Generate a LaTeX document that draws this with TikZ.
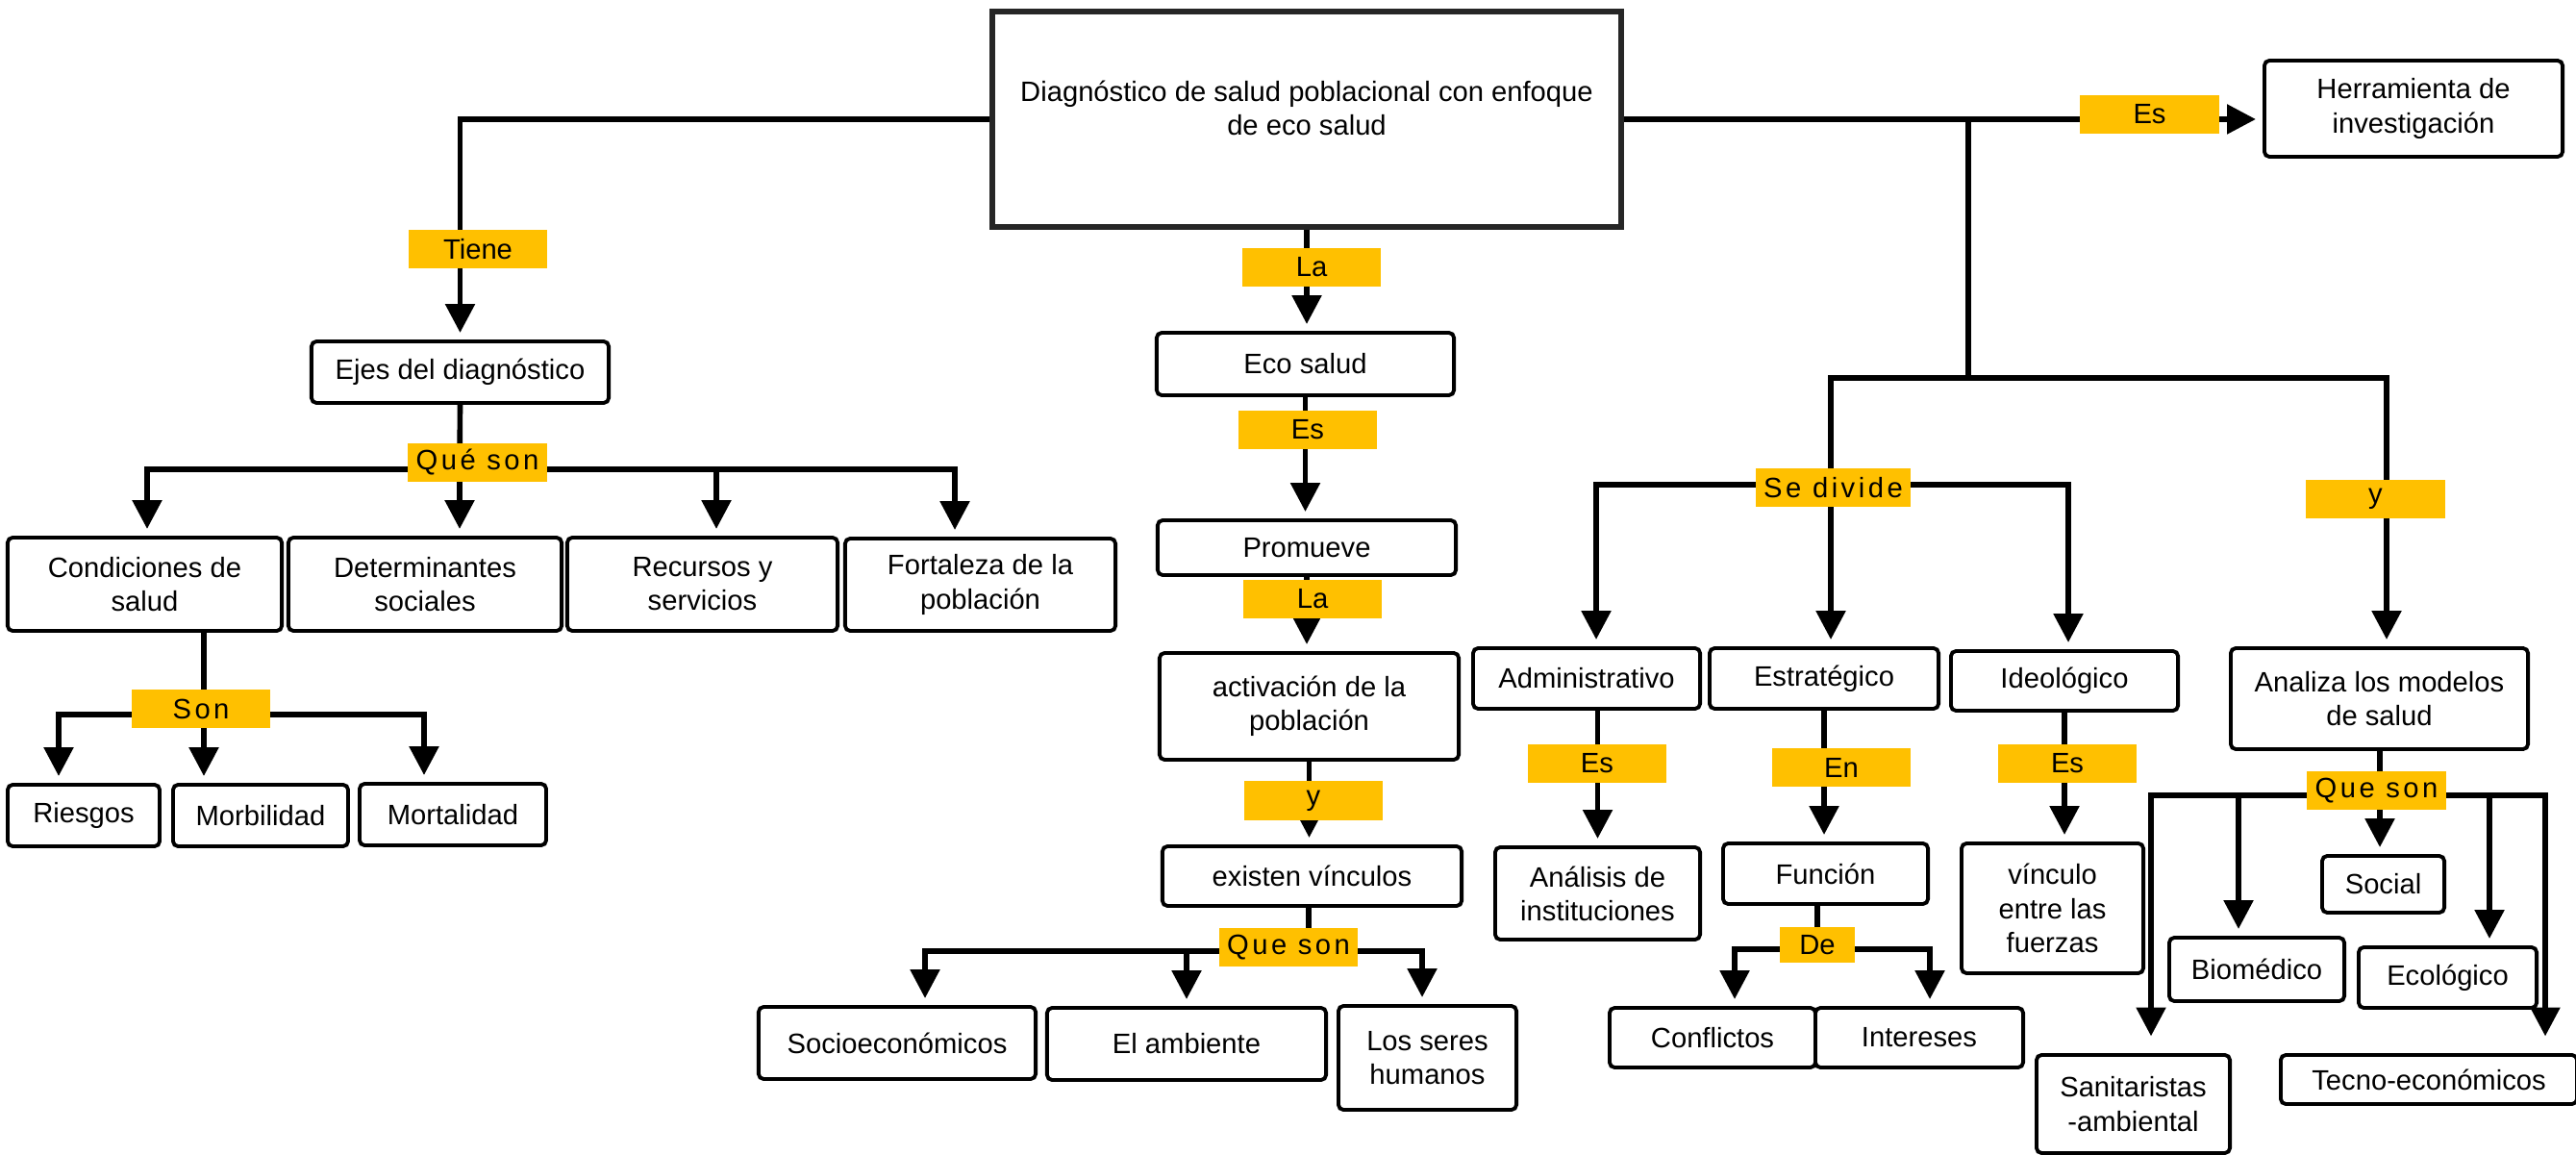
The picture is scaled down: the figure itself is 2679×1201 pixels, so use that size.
\documentclass[tikz,border=0pt]{standalone}
\usepackage{fontspec}
\setmainfont{Liberation Sans}
\newfontfamily\lblfont[LetterSpace=12]{Liberation Sans}
\usetikzlibrary{arrows.meta}
\definecolor{lblyellow}{HTML}{FFC000}

\begin{document}
\begin{tikzpicture}[x=0.01cm,y=-0.01cm,>={Triangle[length=8.5pt,width=8.5pt]},
    conn/.style={line width=1.6pt},
    arr/.style={conn,->,shorten >=2pt},
    txt/.style={align=center,font=\fontsize{8.3}{10}\selectfont},
    box/.style={txt,draw,line width=1.1pt,rounded corners=1.5pt,fill=white,inner sep=1pt},
    mainbox/.style={draw=black!85,line width=1.8pt,fill=white},
    lbl/.style={fill=lblyellow,minimum width=1.44cm,minimum height=0.4cm,inner sep=0pt,font=\fontsize{8.3}{10}\selectfont},
    widelbl/.style={lbl,font=\lblfont\fontsize{8.3}{10}\selectfont},
    boxsize/.style 2 args={minimum width=#1cm,minimum height=#2cm}]

    \useasboundingbox (0,0) rectangle (2679,1201);

    % main concept
    \node[mainbox,boxsize={6.54}{2.24}] (diag) at (1359,124) {};
    \node[txt] (diagtxt) at (1359,112) {Diagnóstico de salud poblacional con enfoque\\de eco salud};
    \node[box,boxsize={3.10}{1.00}] (herr) at (2510,113) {Herramienta de\\investigación};

    % left branch
    \node[box,boxsize={3.09}{0.64}] (ejes) at (478.5,387) {Ejes del diagnóstico};
    \node[box,boxsize={2.85}{0.97}] (cond) at (150.5,607.5) {Condiciones de\\salud};
    \node[box,boxsize={2.84}{0.97}] (deter) at (442,607.5) {Determinantes\\sociales};
    \node[box,boxsize={2.81}{0.97}] (recur) at (730.5,607.5) {Recursos y\\servicios};
    \node[box,boxsize={2.81}{0.96}] (forta) at (1019.5,608) {Fortaleza de la\\población};
    \node[box,boxsize={1.58}{0.64}] (ries) at (87,848) {Riesgos};
    \node[box,boxsize={1.82}{0.64}] (morb) at (271,848) {Morbilidad};
    \node[box,boxsize={1.94}{0.64}] (mort) at (471,847) {Mortalidad};

    % middle branch
    \node[box,boxsize={3.09}{0.65}] (eco) at (1357.5,378.5) {Eco salud};
    \node[box,boxsize={3.10}{0.57}] (prom) at (1359,569.5) {Promueve};
    \node[box,boxsize={3.11}{1.11}] (activ) at (1361.5,734.5) {activación de la\\población};
    \node[box,boxsize={3.11}{0.62}] (exist) at (1364.5,911) {existen vínculos};
    \node[box,boxsize={2.88}{0.75}] (socio) at (933,1084.5) {Socioeconómicos};
    \node[box,boxsize={2.90}{0.75}] (ambi) at (1234,1085.5) {El ambiente};
    \node[box,boxsize={1.85}{1.08}] (seres) at (1484.5,1100) {Los seres\\humanos};

    % right branch
    \node[box,boxsize={2.36}{0.63}] (admin) at (1650,705.5) {Administrativo};
    \node[box,boxsize={2.38}{0.63}] (estra) at (1897,705.5) {Estratégico};
    \node[box,boxsize={2.36}{0.62}] (ideo) at (2147,708) {Ideológico};
    \node[box,boxsize={3.09}{1.05}] (anali) at (2474.5,726.5) {Analiza los modelos\\de salud};
    \node[box,boxsize={2.13}{0.96}] (anal) at (1661.5,929) {Análisis de\\instituciones};
    \node[box,boxsize={2.13}{0.63}] (func) at (1898.5,908.5) {Función};
    \node[box,boxsize={1.89}{1.35}] (vinc) at (2134.5,944.5) {vínculo\\entre las\\fuerzas};
    \node[box,boxsize={2.14}{0.62}] (confl) at (1781,1079) {Conflictos};
    \node[box,boxsize={2.16}{0.62}] (inter) at (1996,1079) {Intereses};
    \node[box,boxsize={1.27}{0.59}] (social) at (2478.5,919.5) {Social};
    \node[box,boxsize={1.82}{0.66}] (biom) at (2347,1008) {Biomédico};
    \node[box,boxsize={1.85}{0.63}] (ecol) at (2545.5,1016.5) {Ecológico};
    \node[box,boxsize={2.01}{1.02}] (sanit) at (2218.5,1148) {Sanitaristas\\-ambiental};
    \node[box,boxsize={3.08}{0.51}] (tecno) at (2526,1122.5) {Tecno-económicos};

    % junctions
    \coordinate (qs) at (478,488);   \coordinate (qsL) at (153,488);
    \coordinate (qsC) at (745,488);  \coordinate (qsR) at (993,488);
    \coordinate (sn) at (212,743);   \coordinate (snL) at (61,743);
    \coordinate (snR) at (441,743);
    \coordinate (vq) at (1361,989);  \coordinate (vqL) at (962,989);
    \coordinate (vqC) at (1234,989); \coordinate (vqR) at (1479,989);
    \coordinate (hr) at (2047,124);  \coordinate (br) at (2047,393);
    \coordinate (brL) at (1904,393); \coordinate (brR) at (2482,393);
    \coordinate (sd) at (1904,504);  \coordinate (sdL) at (1660,504);
    \coordinate (sdR) at (2151,504);
    \coordinate (de) at (1890,987);  \coordinate (deL) at (1804,987);
    \coordinate (deR) at (2007,987);
    \coordinate (qm) at (2475,827);  \coordinate (qmL) at (2237,827);
    \coordinate (qmB) at (2328,827); \coordinate (qmE) at (2589,827);
    \coordinate (qmR) at (2647,827);

    % connectors
    \draw[arr] (diag.west) -| (ejes.north);
    \draw[conn] (ejes.south) -- (qs);
    \draw[arr] (qs) -| (qsL |- cond.north);
    \draw[arr] (qs) -- (qs |- deter.north);
    \draw[arr] (qsC) -- (qsC |- recur.north);
    \draw[arr] (qs) -| (qsR |- forta.north);
    \draw[conn] (cond.south -| sn) -- (sn);
    \draw[arr] (sn) -| (snL |- ries.north);
    \draw[arr] (sn) -- (sn |- morb.north);
    \draw[arr] (sn) -| (snR |- mort.north);

    \draw[arr] (diag.south) -- (diag.south |- eco.north);
    \draw[arr] (eco.south) -- (eco.south |- prom.north);
    \draw[arr] (prom.south) -- (prom.south |- activ.north);
    \draw[arr] (activ.south) -- (activ.south |- exist.north);
    \draw[conn] (exist.south -| vq) -- (vq);
    \draw[arr] (vq) -| (vqL |- socio.north);
    \draw[arr] (vqC) -- (vqC |- ambi.north);
    \draw[arr] (vq) -| (vqR |- seres.north);

    \draw[arr] (diag.east) -- (diag.east -| herr.west);
    \draw[conn] (hr) -- (br);
    \draw[arr] (br) -| (brL |- estra.north);
    \draw[arr] (br) -| (brR |- anali.north);
    \draw[arr] (sd) -| (sdL |- admin.north);
    \draw[arr] (sd) -| (sdR |- ideo.north);
    \draw[arr] (admin.south -| anal.north) -- (anal.north);
    \draw[arr] (estra.south) -- (estra.south |- func.north);
    \draw[arr] (ideo.south) -- (ideo.south |- vinc.north);
    \draw[conn] (func.south -| de) -- (de);
    \draw[arr] (de) -| (deL |- confl.north);
    \draw[arr] (de) -| (deR |- inter.north);
    \draw[conn] (anali.south -| qm) -- (qm);
    \draw[arr,shorten >=5pt] (qm) -| (qmL |- sanit.north);
    \draw[arr] (qmB) -- (qmB |- biom.north);
    \draw[arr] (qm) -- (qm |- social.north);
    \draw[arr] (qmE) -- (qmE |- ecol.north);
    \draw[arr,shorten >=5pt] (qm) -| (qmR |- tecno.north);

    % link words
    \node[lbl] (tiene) at (497,259) {Tiene};
    \node[widelbl] (queson) at (496.5,481) {Qué son};
    \node[widelbl] (son) at (209,737) {Son};
    \node[lbl] (es1) at (2235.5,119) {Es};
    \node[lbl] (la1) at (1364,278) {La};
    \node[lbl] (es2) at (1360,447) {Es};
    \node[lbl] (la2) at (1365,623) {La};
    \node[lbl] (y1) at (1366,832.5) {y};
    \node[widelbl] (queson1) at (1340,985) {Que son};
    \node[widelbl,minimum width=1.61cm] (sedivide) at (1906.5,507) {Se divide};
    \node[lbl] (y2) at (2470.5,519) {y};
    \node[lbl] (es3) at (1661,794) {Es};
    \node[lbl] (en) at (1915,798) {En};
    \node[lbl] (es4) at (2150,794) {Es};
    \node[lbl,minimum width=0.78cm,minimum height=0.37cm] (delbl) at (1890,982.5) {De};
    \node[widelbl] (queson2) at (2471.5,822) {Que son};

\end{tikzpicture}
\end{document}
